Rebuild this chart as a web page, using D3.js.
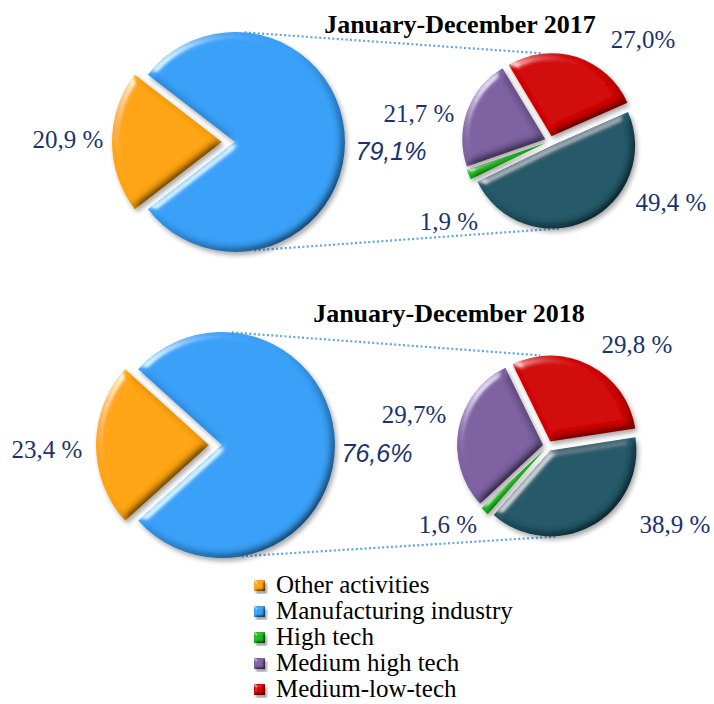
<!DOCTYPE html>
<html>
<head>
<meta charset="utf-8">
<script src="https://cdn.jsdelivr.net/npm/d3@7"></script>
<style>
  body { margin: 0; background: #fff; }
  svg { display: block; }
</style>
</head>
<body>
<svg id="chart" width="714" height="704"></svg>
<script>
var svg = d3.select("#chart");

// titles of the two panels
var titles = ["January-December 2017", "January-December 2018"];

// first pie: other activities vs manufacturing
var mainCats = ["Other activities", "Manufacturing industry"];
var main2017 = [20.9, 79.1];
var main2018 = [23.4, 76.6];
var mainLabels2017 = ["20,9 %", "79,1%"];
var mainLabels2018 = ["23,4 %", "76,6%"];

// second pie: manufacturing broken down by technology level
var subCats = ["Medium-low-tech", "Low tech", "High tech", "Medium high tech"];
var sub2017 = [27.0, 49.4, 1.9, 21.7];
var sub2018 = [29.8, 38.9, 1.6, 29.7];
var subLabels2017 = ["27,0%", "49,4 %", "1,9 %", "21,7 %"];
var subLabels2018 = ["29,8 %", "38,9 %", "1,6 %", "29,7%"];

// legend entries (low tech is not listed in the original)
var legendCats = ["Other activities", "Manufacturing industry", "High tech", "Medium high tech", "Medium-low-tech"];

var colors = {
  "Other activities": "#ffa40e",
  "Manufacturing industry": "#39a0f8",
  "Medium-low-tech": "#d20606",
  "Low tech": "#245969",
  "High tech": "#1cb81c",
  "Medium high tech": "#7d61a1"
};

var labelColor = "#1c3270";
var serif = "'Liberation Serif', 'Times New Roman', serif";
var sans = "'Liberation Sans', Arial, sans-serif";

// layout of each panel (pie centres, radii, label offsets)
var panels = [
  {
    title: titles[0], titleX: 460, titleY: 33,
    main: main2017, mainLabels: mainLabels2017,
    sub: sub2017, subLabels: subLabels2017,
    big: { cx: 235, cy: 142, r: 110, explode: 13 },
    small: { cx: 550, cy: 141, r: 83, explode: 5, start: -31 },
    mainLabelPos: [[-167, 6], [156, 18]],
    subLabelPos: [[93, -93], [121, 70], [-101, 89], [-131, -19]]
  },
  {
    title: titles[1], titleX: 449, titleY: 322,
    main: main2018, mainLabels: mainLabels2018,
    sub: sub2018, subLabels: subLabels2018,
    big: { cx: 222, cy: 445, r: 113, explode: 13 },
    small: { cx: 548, cy: 446, r: 86, explode: 5, start: -26 },
    mainLabelPos: [[-175, 13], [155, 17]],
    subLabelPos: [[89, -93], [127, 87], [-100, 87], [-134, -23]]
  }
];

var rad = Math.PI / 180;

// bevel + shadow filters, to get the office "3D" look
var defs = svg.append("defs");
function addBevel(id, blur, scale) {
  var f = defs.append("filter").attr("id", id)
    .attr("x", "-20%").attr("y", "-20%").attr("width", "140%").attr("height", "140%");
  f.append("feGaussianBlur").attr("in", "SourceAlpha").attr("stdDeviation", blur).attr("result", "blur");
  // darker rim on the side away from the light
  f.append("feDiffuseLighting").attr("in", "blur").attr("surfaceScale", scale)
    .attr("diffuseConstant", 1.414).attr("lighting-color", "#ffffff").attr("result", "diff")
    .append("feDistantLight").attr("azimuth", 225).attr("elevation", 45);
  f.append("feComposite").attr("in", "SourceGraphic").attr("in2", "diff").attr("operator", "arithmetic")
    .attr("k1", 1).attr("k2", 0).attr("k3", 0).attr("k4", 0).attr("result", "shaded");
  // light rim on the lit side
  f.append("feSpecularLighting").attr("in", "blur").attr("surfaceScale", scale)
    .attr("specularConstant", 0.9).attr("specularExponent", 40)
    .attr("lighting-color", "#ffffff").attr("result", "spec")
    .append("feDistantLight").attr("azimuth", 225).attr("elevation", 30);
  f.append("feComposite").attr("in", "spec").attr("in2", "SourceAlpha").attr("operator", "in").attr("result", "specIn");
  f.append("feComposite").attr("in", "shaded").attr("in2", "specIn").attr("operator", "arithmetic")
    .attr("k1", 0).attr("k2", 1).attr("k3", 0.6).attr("k4", 0).attr("result", "lit");
  f.append("feGaussianBlur").attr("in", "SourceAlpha").attr("stdDeviation", blur * 0.6).attr("result", "sblur");
  f.append("feOffset").attr("in", "sblur").attr("dx", 2).attr("dy", 3).attr("result", "soff");
  f.append("feComponentTransfer").attr("in", "soff").attr("result", "shadow")
    .append("feFuncA").attr("type", "linear").attr("slope", 0.35);
  var m = f.append("feMerge");
  m.append("feMergeNode").attr("in", "shadow");
  m.append("feMergeNode").attr("in", "lit");
}
addBevel("bevel", 4, 4);
addBevel("bevelSmall", 1.5, 2);

function explodeOffset(d, e) {
  var mid = (d.startAngle + d.endAngle) / 2;
  return [Math.sin(mid) * e, -Math.cos(mid) * e];
}

function polar(cx, cy, r, deg) {
  return [cx + r * Math.sin(deg * rad), cy - r * Math.cos(deg * rad)];
}

panels.forEach(function (p) {
  var g = svg.append("g");

  // connector lines between the two pies
  var b = p.big, s = p.small;
  var lines = [
    [polar(b.cx, b.cy, b.r, 5), polar(s.cx, s.cy, s.r + s.explode, -5)],
    [polar(b.cx, b.cy, b.r, 170), polar(s.cx, s.cy, s.r + s.explode, 174)]
  ];
  g.selectAll("line.conn").data(lines).enter().append("line")
    .attr("class", "conn")
    .attr("x1", function (d) { return d[0][0]; })
    .attr("y1", function (d) { return d[0][1]; })
    .attr("x2", function (d) { return d[1][0]; })
    .attr("y2", function (d) { return d[1][1]; })
    .attr("stroke", "#5fa5e0")
    .attr("stroke-width", 2.2)
    .attr("stroke-dasharray", "2 2.4");

  // first pie, "other activities" slice centred on the left
  var start = (270 - p.main[0] * 3.6 / 2) * rad;
  var bigPie = d3.pie().sort(null).value(function (d) { return d; })
    .startAngle(start).endAngle(start + 2 * Math.PI);
  var bigArc = d3.arc().innerRadius(0).outerRadius(b.r);

  g.selectAll("path.big").data(bigPie(p.main)).enter().append("path")
    .attr("class", "big")
    .attr("d", bigArc)
    .attr("transform", function (d, i) {
      var o = i === 0 ? explodeOffset(d, b.explode) : [0, 0];
      return "translate(" + (b.cx + o[0]) + "," + (b.cy + o[1]) + ")";
    })
    .attr("fill", function (d, i) { return colors[mainCats[i]]; })
    .attr("filter", "url(#bevel)");

  // second pie, all slices pulled apart a little
  var s0 = s.start * rad;
  var smallPie = d3.pie().sort(null).value(function (d) { return d; })
    .startAngle(s0).endAngle(s0 + 2 * Math.PI);
  var smallArc = d3.arc().innerRadius(0).outerRadius(s.r);

  g.selectAll("path.small").data(smallPie(p.sub)).enter().append("path")
    .attr("class", "small")
    .attr("d", smallArc)
    .attr("transform", function (d) {
      var o = explodeOffset(d, s.explode);
      return "translate(" + (s.cx + o[0]) + "," + (s.cy + o[1]) + ")";
    })
    .attr("fill", function (d, i) { return colors[subCats[i]]; })
    .attr("filter", "url(#bevel)");

  // labels
  g.selectAll("text.mainlab").data(p.mainLabels).enter().append("text")
    .attr("class", "mainlab")
    .attr("x", function (d, i) { return b.cx + p.mainLabelPos[i][0]; })
    .attr("y", function (d, i) { return b.cy + p.mainLabelPos[i][1]; })
    .attr("text-anchor", "middle")
    .attr("fill", labelColor)
    .style("font-family", function (d, i) { return i === 1 ? sans : serif; })
    .style("font-style", function (d, i) { return i === 1 ? "italic" : "normal"; })
    .style("font-size", "25px")
    .text(function (d) { return d; });

  g.selectAll("text.sublab").data(p.subLabels).enter().append("text")
    .attr("class", "sublab")
    .attr("x", function (d, i) { return s.cx + p.subLabelPos[i][0]; })
    .attr("y", function (d, i) { return s.cy + p.subLabelPos[i][1]; })
    .attr("text-anchor", "middle")
    .attr("fill", labelColor)
    .style("font-family", serif)
    .style("font-size", "25px")
    .text(function (d) { return d; });

  // title
  g.append("text")
    .attr("x", p.titleX)
    .attr("y", p.titleY)
    .attr("text-anchor", "middle")
    .style("font-family", serif)
    .style("font-weight", "bold")
    .style("font-size", "26px")
    .text(p.title);
});

// legend
var legendY = d3.scaleBand().domain(legendCats).range([574, 704]);
var legend = svg.append("g");
var items = legend.selectAll("g.item").data(legendCats).enter().append("g")
  .attr("class", "item")
  .attr("transform", function (d) { return "translate(254," + legendY(d) + ")"; });

items.append("rect")
  .attr("x", 0).attr("y", 6)
  .attr("width", 11).attr("height", 11)
  .attr("fill", function (d) { return colors[d]; })
  .attr("filter", "url(#bevelSmall)");

items.append("text")
  .attr("x", 22)
  .attr("y", 19)
  .style("font-family", serif)
  .style("font-size", "25px")
  .attr("fill", "#000")
  .text(function (d) { return d; });
</script>
</body>
</html>
